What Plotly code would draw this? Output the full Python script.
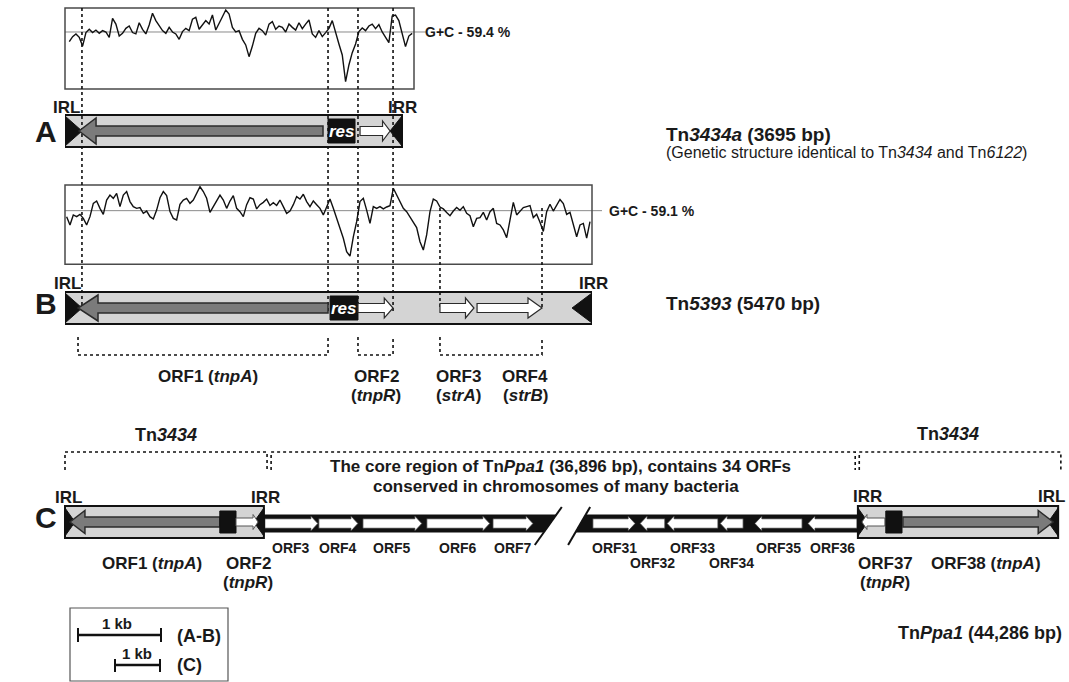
import plotly.graph_objects as go

W, H = 1069, 682
FONT = "Liberation Sans, Arial, sans-serif"

# ===================== DATA =====================
# ---- Panel A : Tn3434a (G+C profile, sliding windows) ----
A_LEN_BP = 3695
A_GC_MEAN = 59.4
A_GC_START_BP = 47
A_GC_STEP_BP = 36.5
A_GC = [54.4, 57.0, 58.4, 56.6, 52.1, 59.1, 60.8, 59.1, 60.4, 58.7,
        60.1, 59.4, 56.6, 66.5, 63.5, 57.3, 58.7, 61.3, 62.5, 59.1,
        58.4, 64.2, 60.8, 58.4, 63.0, 69.1, 65.3, 62.5, 60.1, 58.7,
        61.8, 59.4, 58.4, 55.6, 59.6, 61.3, 60.1, 66.0, 67.0, 60.8,
        63.2, 65.3, 63.5, 68.2, 60.4, 63.5, 67.3, 70.8, 68.7, 61.8,
        59.4, 60.1, 55.6, 52.7, 46.6, 52.1, 58.7, 61.3, 60.1, 57.8,
        63.5, 64.8, 60.8, 62.5, 61.8, 59.4, 63.5, 61.8, 60.4, 64.2,
        61.1, 63.5, 65.6, 58.4, 56.6, 60.1, 57.0, 59.1, 61.3, 65.3,
        58.7, 53.2, 47.5, 33.7, 42.3, 48.7, 53.2, 59.6, 61.5, 60.1,
        62.5, 63.5, 61.1, 63.2, 59.4, 56.6, 53.9, 67.7, 68.2, 65.3,
        59.1, 51.8, 57.3, 58.7]
A_GENE = ["tnpA", "res", "tnpR"]
A_START = [154, 2884, 3235]
A_END = [2829, 3180, 3564]
A_STRAND = [-1, 0, 1]
A_IR_BP = [186, 131]

# ---- Panel B : Tn5393 ----
B_LEN_BP = 5470
B_GC_MEAN = 59.1
B_GC_START_BP = 17
B_GC_STEP_BP = 34.6
B_GC = [56.0, 51.7, 56.9, 56.0, 57.2, 55.1, 51.7, 56.0, 62.9, 64.1,
        60.3, 57.2, 64.6, 67.2, 65.5, 68.1, 61.2, 67.2, 69.0, 63.8,
        61.2, 60.3, 60.7, 57.7, 58.9, 56.0, 54.8, 59.4, 65.8, 69.0,
        66.9, 58.6, 55.1, 54.3, 62.4, 64.6, 65.5, 62.9, 64.6, 68.1,
        71.5, 69.0, 65.5, 58.2, 61.2, 64.1, 67.2, 64.6, 60.3, 64.1,
        66.9, 60.3, 58.6, 56.0, 62.2, 65.8, 65.1, 60.0, 62.2, 63.4,
        65.1, 61.8, 63.2, 61.8, 64.6, 61.2, 57.7, 58.9, 62.2, 66.4,
        65.1, 67.6, 63.8, 61.2, 64.1, 62.2, 60.3, 56.9, 61.2, 65.1,
        60.3, 55.1, 50.8, 44.8, 37.8, 35.5, 45.5, 53.4, 63.8, 65.5,
        59.4, 52.5, 61.2, 60.3, 61.2, 60.0, 61.0, 61.7, 70.7, 67.2,
        64.1, 60.3, 58.6, 56.0, 53.4, 50.3, 43.0, 38.7, 46.5, 58.6,
        65.1, 64.1, 61.0, 60.0, 58.2, 56.5, 58.9, 60.7, 59.3, 61.2,
        57.7, 56.5, 50.8, 55.1, 55.5, 58.2, 54.3, 58.6, 60.3, 52.5,
        51.7, 49.1, 45.1, 55.1, 63.4, 56.9, 58.9, 60.7, 61.2, 61.7,
        55.5, 57.2, 53.1, 48.3, 58.6, 62.4, 58.9, 62.2, 64.9, 62.8,
        57.2, 58.2, 52.5, 45.6, 51.7, 52.5, 44.9, 53.4]
B_GENE = ["tnpA", "res", "tnpR", "strA", "strB"]
B_START = [135, 2751, 3041, 3892, 4277]
B_END = [2730, 3041, 3405, 4245, 4951]
B_STRAND = [-1, 0, 1, 1, 1]
B_IR_BP = [176, 207]
B_GUIDE_LONG_BP = [176, 2730, 3041, 3405]   # guides through A and B
B_GUIDE_SHORT_BP = [3892, 4951]             # guides in B only

# ---- Panel C : TnPpa1 (drawing in kb) ----
C_TN_LEFT_KB = [0.0, 4.42]
C_TN_RIGHT_KB = [17.62, 22.07]
C_L_START = [0.11, 3.44, 3.80]
C_L_END = [3.44, 3.80, 4.29]
C_L_STRAND = [-1, 0, 1]
C_R_START = [17.71, 18.24, 18.62]
C_R_END = [18.22, 18.60, 21.96]
C_R_STRAND = [-1, 0, 1]
C_ORF = ["ORF3", "ORF4", "ORF5", "ORF6", "ORF7",
         "ORF31", "ORF32", "ORF33", "ORF34", "ORF35", "ORF36"]
C_ORF_START = [4.44, 5.64, 6.62, 8.04, 9.51, 11.73, 12.78, 13.38, 14.56, 15.33, 16.51]
C_ORF_END = [5.62, 6.51, 7.93, 9.44, 10.40, 12.67, 13.33, 14.51, 15.07, 16.38, 17.60]
C_ORF_STRAND = [1, 1, 1, 1, 1, 1, -1, -1, -1, -1, -1]
C_ORF_ROW = [0, 0, 0, 0, 0, 0, 1, 0, 1, 0, 0]
C_BREAK_TOP_KB = [11.04, 11.67]
C_BREAK_BOT_KB = [10.44, 11.18]

# ===================== LAYOUT GEOMETRY (pixels) =====================
A_DOM = (65, 414); A_YDOM = (8, 89); A_YR = (29.84, 71.84)
B_DOM = (65, 592); B_YDOM = (185, 264.3); B_YR = (31.3, 72.4)
A_XR = (0, A_LEN_BP * (A_DOM[1] - A_DOM[0]) / 337.0)
B_XR = (0, B_LEN_BP)
C_PX_PER_KB = 45.0
C_ORIGIN = 65
C_XR = (-C_ORIGIN / C_PX_PER_KB, (W - C_ORIGIN) / C_PX_PER_KB)

ppuA = (A_DOM[1] - A_DOM[0]) / (A_XR[1] - A_XR[0])
ppuB = (B_DOM[1] - B_DOM[0]) / (B_XR[1] - B_XR[0])
ppuC = C_PX_PER_KB

LIGHT = "#d4d4d4"
DARK = "#7b7b7b"
BLK = "#111111"

shapes = []
ann = []


def arrow_path(x0, x1, strand, yc, shaft_h, head_h, head_len):
    if strand > 0:
        xb = max(x0, x1 - head_len)
        pts = [(x0, yc - shaft_h / 2), (xb, yc - shaft_h / 2), (xb, yc - head_h / 2), (x1, yc),
               (xb, yc + head_h / 2), (xb, yc + shaft_h / 2), (x0, yc + shaft_h / 2)]
    else:
        xb = min(x1, x0 + head_len)
        pts = [(x1, yc - shaft_h / 2), (xb, yc - shaft_h / 2), (xb, yc - head_h / 2), (x0, yc),
               (xb, yc + head_h / 2), (xb, yc + shaft_h / 2), (x1, yc + shaft_h / 2)]
    return "M " + " L ".join(f"{x:.3f},{y:.2f}" for x, y in pts) + " Z"


def poly(pts):
    return "M " + " L ".join(f"{x:.3f},{y:.2f}" for x, y in pts) + " Z"


def path_shape(p, xref, fill, lc, lw, yref="y"):
    shapes.append(dict(type="path", path=p, xref=xref, yref=yref, fillcolor=fill,
                       line=dict(color=lc, width=lw)))


def text(x, y, s, size, xanchor="center", color="#1a1a1a", xref="x"):
    ann.append(dict(x=x, y=y, xref=xref, yref="y", text=s, showarrow=False,
                    xanchor=xanchor, yanchor="middle",
                    font=dict(family=FONT, size=size, color=color)))


# ---------- GC boxes ----------
for ax, mean, xend in (("2", A_GC_MEAN, 427), ("3", B_GC_MEAN, 602)):
    shapes.append(dict(type="line", xref="x", yref="y" + ax, x0=65, x1=xend, y0=mean, y1=mean,
                       line=dict(color="#8a8a8a", width=1), layer="below"))
    shapes.append(dict(type="rect", xref="x" + ax + " domain", yref="y" + ax + " domain",
                       x0=0, x1=1, y0=0, y1=1, line=dict(color="#4a4a4a", width=1.5)))

# ---------- gene maps A and B: backgrounds ----------
A_Y0, A_Y1 = 115, 147
B_Y0, B_Y1 = 292, 324
shapes.append(dict(type="rect", xref="x2", yref="y", x0=0, x1=A_LEN_BP, y0=A_Y0, y1=A_Y1,
                   fillcolor=LIGHT, line=dict(color=BLK, width=2)))
shapes.append(dict(type="rect", xref="x3", yref="y", x0=0, x1=B_LEN_BP, y0=B_Y0, y1=B_Y1,
                   fillcolor=LIGHT, line=dict(color=BLK, width=2)))

# ---------- dotted guides ----------
for g in B_GUIDE_LONG_BP:
    shapes.append(dict(type="line", xref="x3", yref="y", x0=g, x1=g, y0=8, y1=312,
                       line=dict(color=BLK, width=1.6, dash="dot")))
for g in B_GUIDE_SHORT_BP:
    shapes.append(dict(type="line", xref="x3", yref="y", x0=g, x1=g, y0=208, y1=310,
                       line=dict(color=BLK, width=1.6, dash="dot")))


def draw_map(xref, ppu, length, ir, starts, ends, strands, y0, y1, big_head, res_font):
    yc = (y0 + y1) / 2
    # inverted repeats
    path_shape(poly([(0, y0 + 1), (ir[0], yc), (0, y1 - 1)]), xref, BLK, BLK, 1)
    path_shape(poly([(length, y0 + 1), (length - ir[1], yc), (length, y1 - 1)]), xref, BLK, BLK, 1)
    for s, e, st in zip(starts, ends, strands):
        if st == 0:
            shapes.append(dict(type="rect", xref=xref, yref="y", x0=s, x1=e, y0=y0 + 4, y1=y1 - 4,
                               fillcolor=BLK, line=dict(color=BLK, width=1)))
            ann.append(dict(x=(s + e) / 2, y=yc, xref=xref, yref="y", text="<b><i>res</i></b>",
                            showarrow=False, font=dict(family=FONT, size=res_font, color="white")))
        elif st < 0:
            path_shape(arrow_path(s, e, st, yc, 10, 26, big_head / ppu), xref, DARK, "#2b2b2b", 1.5)
        else:
            hl = min(14, (e - s) * ppu * 0.25) / ppu
            path_shape(arrow_path(s, e, st, yc, 9, 20, hl), xref, "white", "#2b2b2b", 1.2)


draw_map("x2", ppuA, A_LEN_BP, A_IR_BP, A_START, A_END, A_STRAND, A_Y0, A_Y1, 17, 17)
draw_map("x3", ppuB, B_LEN_BP, B_IR_BP, B_START, B_END, B_STRAND, B_Y0, B_Y1, 20, 17)

# ---------- B brackets ----------
B_BRK = [(B_START[0], B_END[0]), (B_START[2], B_END[2]), (B_START[3], B_END[4])]
for s, e in B_BRK:
    shapes.append(dict(type="path", xref="x3", yref="y",
                       path=f"M {s},337 L {s},355 L {e},355 L {e},337",
                       line=dict(color=BLK, width=1.6, dash="dot")))

# ---------- Panel C ----------
CY0, CY1 = 506, 538
CYC = (CY0 + CY1) / 2
BY0, BY1 = 515, 532
# top dotted brackets
for s, e in ((C_TN_LEFT_KB[0], C_TN_LEFT_KB[1] + 0.07), (C_TN_LEFT_KB[1] + 0.16, C_TN_RIGHT_KB[0] - 0.06),
             (C_TN_RIGHT_KB[0] + 0.03, C_TN_RIGHT_KB[1] + 0.06)):
    shapes.append(dict(type="path", xref="x4", yref="y",
                       path=f"M {s:.3f},470 L {s:.3f},452 L {e:.3f},452 L {e:.3f},470",
                       line=dict(color=BLK, width=1.6, dash="dot")))


def slash_x(i, y):
    yt, yb = 507, 545
    return C_BREAK_TOP_KB[i] + (C_BREAK_BOT_KB[i] - C_BREAK_TOP_KB[i]) * (y - yt) / (yb - yt)


# black bands of the core region
path_shape(poly([(C_TN_LEFT_KB[1], BY0), (slash_x(0, BY0), BY0), (slash_x(0, BY1), BY1),
                 (C_TN_LEFT_KB[1], BY1)]), "x4", BLK, BLK, 1)
path_shape(poly([(slash_x(1, BY0), BY0), (C_TN_RIGHT_KB[0], BY0), (C_TN_RIGHT_KB[0], BY1),
                 (slash_x(1, BY1), BY1)]), "x4", BLK, BLK, 1)
for i in range(2):
    shapes.append(dict(type="line", xref="x4", yref="y", x0=C_BREAK_TOP_KB[i], y0=507,
                       x1=C_BREAK_BOT_KB[i], y1=545, line=dict(color=BLK, width=2)))
# core ORFs
for s, e, st in zip(C_ORF_START, C_ORF_END, C_ORF_STRAND):
    path_shape(arrow_path(s, e, st, (BY0 + BY1) / 2, 9.5, 15, 7 / ppuC), "x4", "white", "#333", 0.8)

# Tn3434 copies
for (bx0, bx1), starts, ends, strands in ((C_TN_LEFT_KB, C_L_START, C_L_END, C_L_STRAND),
                                          (C_TN_RIGHT_KB, C_R_START, C_R_END, C_R_STRAND)):
    shapes.append(dict(type="rect", xref="x4", yref="y", x0=bx0, x1=bx1, y0=CY0, y1=CY1,
                       fillcolor=LIGHT, line=dict(color=BLK, width=2)))
    tri = 10 / ppuC
    path_shape(poly([(bx0, CY0 + 2), (bx0 + tri, CYC), (bx0, CY1 - 2)]), "x4", BLK, BLK, 1)
    path_shape(poly([(bx1, CY0 + 2), (bx1 - tri, CYC), (bx1, CY1 - 2)]), "x4", BLK, BLK, 1)
    for s, e, st in zip(starts, ends, strands):
        if st == 0:
            shapes.append(dict(type="rect", xref="x4", yref="y", x0=s, x1=e, y0=CY0 + 5, y1=CY1 - 5,
                               fillcolor=BLK, line=dict(color=BLK, width=1)))
        elif (e - s) > 1.5:
            path_shape(arrow_path(s, e, st, CYC, 10, 23, 15 / ppuC), "x4", DARK, "#2b2b2b", 1.5)
        else:
            path_shape(arrow_path(s, e, st, CYC, 8, 15, 5 / ppuC), "x4", "white", "#555", 1)

# scale box
shapes.append(dict(type="rect", xref="x", yref="y", x0=70, x1=228, y0=608, y1=681,
                   line=dict(color="#555", width=1.2)))
for x0, x1, y in ((78, 161, 635),):
    shapes.append(dict(type="line", xref="x", yref="y", x0=x0, x1=x1, y0=y, y1=y,
                       line=dict(color=BLK, width=2.5)))
    for xx in (x0, x1):
        shapes.append(dict(type="line", xref="x", yref="y", x0=xx, x1=xx, y0=y - 7, y1=y + 7,
                           line=dict(color=BLK, width=2)))
c0 = (115 - C_ORIGIN) / ppuC
shapes.append(dict(type="line", xref="x4", yref="y", x0=c0, x1=c0 + 1.0, y0=665, y1=665,
                   line=dict(color=BLK, width=2.5)))
for xx in (c0, c0 + 1.0):
    shapes.append(dict(type="line", xref="x4", yref="y", x0=xx, x1=xx, y0=659, y1=672,
                       line=dict(color=BLK, width=2)))

# ===================== TEXT =====================
text(423, 32, "<b>G+C - 59.4 %</b>", 14, "left")
text(607, 211, "<b>G+C - 59.1 %</b>", 14, "left")
text(66, 107, "<b>IRL</b>", 17)
text(402, 107, "<b>IRR</b>", 17)
text(67, 283, "<b>IRL</b>", 17)
text(593, 283, "<b>IRR</b>", 17)
text(46, 131, "<b>A</b>", 30)
text(46, 303, "<b>B</b>", 30)
text(46, 517, "<b>C</b>", 30)
text(664, 134, "<b>Tn<i>3434a</i> (3695 bp)</b>", 19, "left")
text(664, 152, "(Genetic structure identical to Tn<i>3434</i> and Tn<i>6122</i>)", 16, "left")
text(664, 303, "<b>Tn<i>5393</i> (5470 bp)</b>", 19, "left")

text(208, 376, "<b>ORF1 (<i>tnpA</i>)</b>", 17)
text(376, 376, "<b>ORF2</b>", 17)
text(376, 395, "<b>(<i>tnpR</i>)</b>", 17)
text(458, 376, "<b>ORF3</b>", 17)
text(458, 395, "<b>(<i>strA</i>)</b>", 17)
text(525, 376, "<b>ORF4</b>", 17)
text(525, 395, "<b>(<i>strB</i>)</b>", 17)

text(166, 435, "<b>Tn<i>3434</i></b>", 18)
text(948, 434, "<b>Tn<i>3434</i></b>", 18)
text(560, 466, "<b>The core region of Tn<i>Ppa1</i> (36,896 bp), contains 34 ORFs</b>", 17)
text(556, 486, "<b>conserved in chromosomes of many bacteria</b>", 17)
text(68, 497, "<b>IRL</b>", 17)
text(265, 497, "<b>IRR</b>", 17)
text(867, 496, "<b>IRR</b>", 17)
text(1067, 496, "<b>IRL</b>", 17, "right")

for name, s, e, row in zip(C_ORF, C_ORF_START, C_ORF_END, C_ORF_ROW):
    ann.append(dict(x=(s + e) / 2, y=548 + 15 * row, xref="x4", yref="y", text=f"<b>{name}</b>",
                    showarrow=False, font=dict(family=FONT, size=14, color="#1a1a1a")))
text(152, 563, "<b>ORF1 (<i>tnpA</i>)</b>", 17)
text(248, 563, "<b>ORF2</b>", 17)
text(248, 582, "<b>(<i>tnpR</i>)</b>", 17)
text(885, 563, "<b>ORF37</b>", 17)
text(885, 582, "<b>(<i>tnpR</i>)</b>", 17)
text(986, 563, "<b>ORF38 (<i>tnpA</i>)</b>", 17)

text(117, 623, "<b>1 kb</b>", 15)
text(137, 653, "<b>1 kb</b>", 15)
text(175, 636, "<b>(A-B)</b>", 18, "left")
text(175, 665, "<b>(C)</b>", 18, "left")
text(1064, 633, "<b>Tn<i>Ppa1</i> (44,286 bp)</b>", 18, "right")

# ===================== FIGURE =====================
fig = go.Figure()
fig.add_trace(go.Scatter(x=[A_GC_START_BP + A_GC_STEP_BP * i for i in range(len(A_GC))], y=A_GC,
                         mode="lines", line=dict(color=BLK, width=1.4), xaxis="x2", yaxis="y2",
                         hoverinfo="skip", showlegend=False))
fig.add_trace(go.Scatter(x=[B_GC_START_BP + B_GC_STEP_BP * i for i in range(len(B_GC))], y=B_GC,
                         mode="lines", line=dict(color=BLK, width=1.4), xaxis="x3", yaxis="y3",
                         hoverinfo="skip", showlegend=False))
fig.add_trace(go.Scatter(x=[None], y=[None], xaxis="x", yaxis="y", showlegend=False))
fig.add_trace(go.Scatter(x=[None], y=[None], xaxis="x4", yaxis="y", showlegend=False))

hid = dict(visible=False, showgrid=False, zeroline=False, fixedrange=True)
fig.update_layout(
    width=W, height=H, margin=dict(l=0, r=0, t=0, b=0), autosize=False,
    paper_bgcolor="white", plot_bgcolor="rgba(0,0,0,0)",
    xaxis=dict(domain=[0, 1], range=[0, W], **hid),
    yaxis=dict(domain=[0, 1], range=[H, 0], **hid),
    xaxis2=dict(domain=[A_DOM[0] / W, A_DOM[1] / W], range=list(A_XR), anchor="y2", **hid),
    yaxis2=dict(domain=[1 - A_YDOM[1] / H, 1 - A_YDOM[0] / H], range=list(A_YR), anchor="x2", **hid),
    xaxis3=dict(domain=[B_DOM[0] / W, B_DOM[1] / W], range=list(B_XR), anchor="y3", **hid),
    yaxis3=dict(domain=[1 - B_YDOM[1] / H, 1 - B_YDOM[0] / H], range=list(B_YR), anchor="x3", **hid),
    xaxis4=dict(domain=[0, 1], range=list(C_XR), anchor="y", overlaying="x", **hid),
    shapes=shapes, annotations=ann, showlegend=False,
)
fig.write_html("out.html", config={"displayModeBar": False},
               post_script="document.body.style.margin='0px';")
